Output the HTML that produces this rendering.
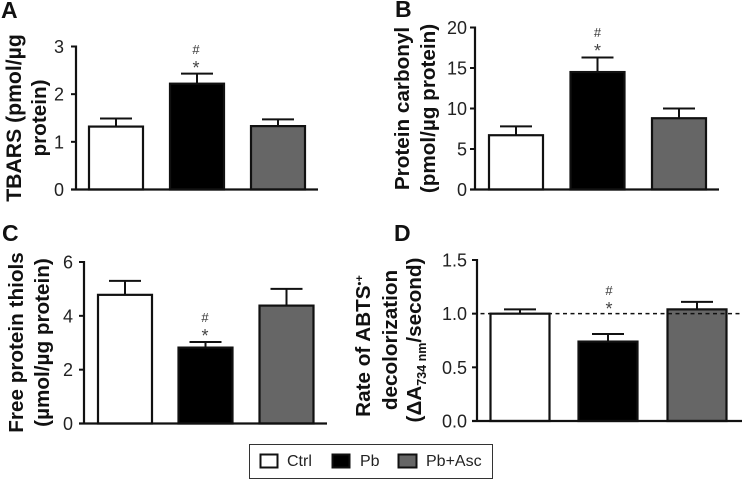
<!DOCTYPE html>
<html>
<head>
<meta charset="utf-8">
<style>
html,body{margin:0;padding:0;background:#fff;width:742px;height:479px;overflow:hidden}
svg{display:block;font-family:"Liberation Sans",sans-serif;filter:blur(0.35px)}
</style>
</head>
<body>
<svg id="chart" width="742" height="479" viewBox="0 0 742 479" xmlns="http://www.w3.org/2000/svg">
  <g font-weight="bold" font-size="23" fill="#111">
    <text x="1" y="18">A</text>
    <text x="395" y="17">B</text>
    <text x="2" y="241">C</text>
    <text x="394" y="241">D</text>
  </g>
  <g font-weight="bold" font-size="20.7" fill="#111" text-anchor="middle">
    <text font-size="21.2" transform="translate(21,118) rotate(-90)">TBARS (pmol/µg</text>
    <text transform="translate(46,118) rotate(-90)">protein)</text>
    <text transform="translate(409,108.5) rotate(-90)">Protein carbonyl</text>
    <text transform="translate(435,108.5) rotate(-90)">(pmol/µg protein)</text>
    <text transform="translate(23,342.5) rotate(-90)">Free protein thiols</text>
    <text transform="translate(49,342.5) rotate(-90)">(µmol/µg protein)</text>
    <text transform="translate(370,346) rotate(-90)">Rate of ABTS<tspan font-size="11" dy="-7">•+</tspan></text>
    <text transform="translate(397,340) rotate(-90)">decolorization</text>
    <text transform="translate(421,340) rotate(-90)">(ΔA<tspan font-size="12.5" dy="5">734 nm</tspan><tspan dy="-5">/second)</tspan></text>
  </g>
  <g id="plots"></g>
  <g>
    <rect x="249.5" y="444.5" width="243" height="34" fill="#fff" stroke="#333" stroke-width="1"/>
    <rect x="260.5" y="454.5" width="17" height="13" fill="#fff" stroke="#111" stroke-width="2"/>
    <text x="287" y="466" font-size="16" fill="#222">Ctrl</text>
    <rect x="332.5" y="454.5" width="17" height="13" fill="#000" stroke="#111" stroke-width="2"/>
    <text x="360" y="466" font-size="16" fill="#222">Pb</text>
    <rect x="398.5" y="454.5" width="18" height="13" fill="#666" stroke="#111" stroke-width="2"/>
    <text x="426" y="466" font-size="16" fill="#222">Pb+Asc</text>
  </g>
</svg>
<script>
var categories = ['ctrl', 'pb', 'pb-asc'];
var barFills = ['#ffffff', '#000000', '#666666'];

var meansA = [1.32, 2.22, 1.33];
var errorTopsA = [1.49, 2.43, 1.47];
var ticksA = [0, 1, 2, 3];
var tickLabelsA = ['0', '1', '2', '3'];

var meansB = [6.7, 14.5, 8.8];
var errorTopsB = [7.8, 16.3, 10.0];
var ticksB = [0, 5, 10, 15, 20];
var tickLabelsB = ['0', '5', '10', '15', '20'];

var meansC = [4.78, 2.82, 4.38];
var errorTopsC = [5.3, 3.03, 5.0];
var ticksC = [0, 2, 4, 6];
var tickLabelsC = ['0', '2', '4', '6'];

var meansD = [1.0, 0.74, 1.04];
var errorTopsD = [1.04, 0.81, 1.11];
var ticksD = [0, 0.5, 1.0, 1.5];
var tickLabelsD = ['0.0', '0.5', '1.0', '1.5'];
var referenceLineD = [1.0];

var NS = 'http://www.w3.org/2000/svg';
var plots = document.getElementById('plots');

function make(parent, tag, attrs, text) {
  var el = document.createElementNS(NS, tag);
  for (var k in attrs) el.setAttribute(k, attrs[k]);
  if (text !== undefined) el.textContent = text;
  parent.appendChild(el);
  return el;
}

function drawPanel(id, cfg) {
  var g = make(plots, 'g', {});
  
  
  var yMax = cfg.ticks[cfg.ticks.length - 1];
  function y(v) { return cfg.y0 - (v / yMax) * (cfg.y0 - cfg.yTop); }

  cfg.means.forEach(function (m, i) {
    var bx = cfg.barX[i], cx = bx + cfg.barW / 2, capHalf = 16;
    var errLine = make(g, 'path', {
      d: 'M' + cx + ' ' + y(m) + 'V' + y(cfg.tops[i]) + 'M' + (cx - capHalf) + ' ' + y(cfg.tops[i]) + 'H' + (cx + capHalf),
      stroke: '#111', 'stroke-width': 2, fill: 'none'
    });
    
    
    var bar = make(g, 'rect', {
      x: bx, y: y(m), width: cfg.barW, height: cfg.y0 - y(m),
      fill: barFills[i], stroke: '#111', 'stroke-width': 2.2
    });
    
    
  });

  if (cfg.reference) {
    cfg.reference.forEach(function (r) {
      var refLine = make(g, 'line', {
        x1: cfg.axisX - 4, x2: cfg.xEnd, y1: y(r), y2: y(r),
        stroke: '#111', 'stroke-width': 1.5, 'stroke-dasharray': '4 3.5'
      });
      
      
    });
  }

  var yAxis = make(g, 'line', { x1: cfg.axisX, x2: cfg.axisX, y1: y(yMax) - 1, y2: cfg.y0 + 1, stroke: '#111', 'stroke-width': 2.2 });
  
  
  var xAxis = make(g, 'line', { x1: cfg.axisX - 5, x2: cfg.xEnd, y1: cfg.y0, y2: cfg.y0, stroke: '#111', 'stroke-width': 2.2 });
  
  

  cfg.ticks.forEach(function (t, i) {
    var tick = make(g, 'line', { x1: cfg.axisX - 5, x2: cfg.axisX, y1: y(t), y2: y(t), stroke: '#111', 'stroke-width': 2 });
    
    
    var label = make(g, 'text', {
      x: cfg.axisX - cfg.labelGap, y: y(t) + 6.5, 'text-anchor': 'end', 'font-size': 18, fill: '#222'
    }, cfg.tickLabels[i]);
    
    
  });

  var hash = make(g, 'text', { x: cfg.markX, y: cfg.markY, 'text-anchor': 'middle', 'font-size': 13, fill: '#333' }, '#');
  
  
  var star = make(g, 'text', { x: cfg.markX, y: cfg.markY + 20, 'text-anchor': 'middle', 'font-size': 18, fill: '#444' }, '*');
  
  
}

drawPanel('a', { means: meansA, tops: errorTopsA, ticks: ticksA, tickLabels: tickLabelsA, labelGap: 12,
  axisX: 76, xEnd: 318, y0: 189.5, yTop: 46.5, barX: [89, 170, 251], barW: 54, markX: 196, markY: 54 });
drawPanel('b', { means: meansB, tops: errorTopsB, ticks: ticksB, tickLabels: tickLabelsB, labelGap: 8,
  axisX: 475, xEnd: 719, y0: 189.5, yTop: 27.5, barX: [489, 570.5, 652], barW: 54, markX: 597.5, markY: 37 });
drawPanel('c', { means: meansC, tops: errorTopsC, ticks: ticksC, tickLabels: tickLabelsC, labelGap: 11,
  axisX: 84, xEnd: 327, y0: 423.5, yTop: 262, barX: [98, 178.5, 259.5], barW: 54, markX: 205, markY: 322 });
drawPanel('d', { means: meansD, tops: errorTopsD, ticks: ticksD, tickLabels: tickLabelsD, labelGap: 10, reference: referenceLineD,
  axisX: 477, xEnd: 742, y0: 421, yTop: 260, barX: [490.5, 578.5, 667.5], barW: 59, markX: 609, markY: 295 });
</script>
</body>
</html>
